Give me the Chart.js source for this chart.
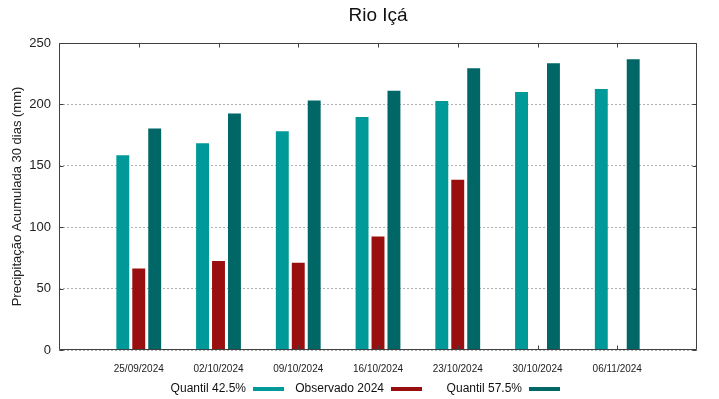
<!DOCTYPE html>
<html><head><meta charset="utf-8">
<script src="https://cdn.jsdelivr.net/npm/chart.js@4"></script>
<style>html,body{margin:0;padding:0;background:#fff}#wrap{width:719px;height:399px}</style>
</head><body><div id="wrap"><canvas id="c" width="719" height="399"></canvas></div>
<script>
const categories = ['25/09/2024','02/10/2024','09/10/2024','16/10/2024','23/10/2024','30/10/2024','06/11/2024'];
const quantil425 = [158.6, 168.4, 178.1, 189.8, 202.8, 210.1, 212.6];
const observado2024 = [66.4, 72.4, 71.0, 92.5, 138.6, null, null];
const quantil575 = [180.3, 192.5, 203.1, 211.2, 229.4, 233.5, 236.7];
const yTicks = [0, 50, 100, 150, 200, 250];
const seriesNames = ['Quantil 42.5%', 'Observado 2024', 'Quantil 57.5%'];
const seriesColors = ['#009999', '#990e0e', '#006666'];
const chartTitle = 'Rio Içá';
const yTitle = 'Precipitação Acumulada 30 dias (mm)';

const FONT = '"Liberation Sans", Arial, sans-serif';
const labels = [''].concat(categories, ['']);
const pad = arr => [null].concat(arr, [null]);

const framePlugin = {
  id: 'frame',
  afterDraw(chart) {
    const {ctx, chartArea: a, scales: {x, y}} = chart;
    const L = Math.round(a.left) + 0.5, R = Math.round(a.right) - 0.5;
    const T = Math.round(a.top) + 0.5, B = Math.round(a.bottom) - 0.5;
    ctx.save();
    ctx.strokeStyle = '#404040';
    ctx.lineWidth = 1;
    ctx.beginPath();
    ctx.rect(L, T, R - L, B - T);
    for (let i = 1; i <= categories.length; i++) {
      const px = Math.round(x.getPixelForValue(i)) + 0.5;
      ctx.moveTo(px, B); ctx.lineTo(px, B - 4);
      ctx.moveTo(px, T); ctx.lineTo(px, T + 4);
    }
    yTicks.forEach(v => {
      const py = Math.round(y.getPixelForValue(v)) + 0.5;
      ctx.moveTo(L, py); ctx.lineTo(L + 4, py);
      ctx.moveTo(R, py); ctx.lineTo(R - 4, py);
    });
    ctx.stroke();

    ctx.fillStyle = '#111';
    ctx.font = '19px ' + FONT;
    ctx.textAlign = 'center';
    ctx.textBaseline = 'alphabetic';
    ctx.fillText(chartTitle, (a.left + a.right) / 2, 21);

    ctx.font = '12px ' + FONT;
    ctx.textAlign = 'right';
    chart.data.datasets.forEach((ds, i) => {
      const sx = 253 + i * 138;
      ctx.fillStyle = '#111';
      ctx.fillText(ds.label, sx - 7, 391.5);
      ctx.fillStyle = ds.backgroundColor;
      ctx.fillRect(sx, 387, 31, 4);
    });
    ctx.restore();
  }
};

new Chart(document.getElementById('c'), {
  type: 'bar',
  data: {
    labels: labels,
    datasets: [
      {label: seriesNames[0], data: pad(quantil425), backgroundColor: seriesColors[0]},
      {label: seriesNames[1], data: pad(observado2024), backgroundColor: seriesColors[1]},
      {label: seriesNames[2], data: pad(quantil575), backgroundColor: seriesColors[2]}
    ]
  },
  options: {
    responsive: false,
    animation: false,
    devicePixelRatio: 1,
    layout: {padding: {top: 43, right: 22, left: 0, bottom: 0}},
    datasets: {bar: {categoryPercentage: 0.6, barPercentage: 0.81}},
    plugins: {legend: {display: false}, title: {display: false}, tooltip: {enabled: false}},
    scales: {
      x: {
        type: 'category',
        offset: false,
        grid: {display: false, drawTicks: false},
        border: {display: false},
        ticks: {font: {family: FONT, size: 10}, color: '#222', padding: 13, autoSkip: false, maxRotation: 0},
        afterFit: s => { s.height = 49; }
      },
      y: {
        min: 0, max: 250,
        afterBuildTicks: s => { s.ticks = yTicks.map(v => ({value: v})); },
        grid: {color: '#b0b0b0', drawTicks: false, lineWidth: 1},
        border: {display: false, dash: [2, 2]},
        ticks: {font: {family: FONT, size: 13}, color: '#222', padding: 8},
        title: {display: true, text: yTitle, font: {family: FONT, size: 13}, color: '#222', padding: {top: 10, bottom: 0}},
        afterFit: s => { s.width = 59; }
      }
    }
  },
  plugins: [framePlugin]
});
</script></body></html>
